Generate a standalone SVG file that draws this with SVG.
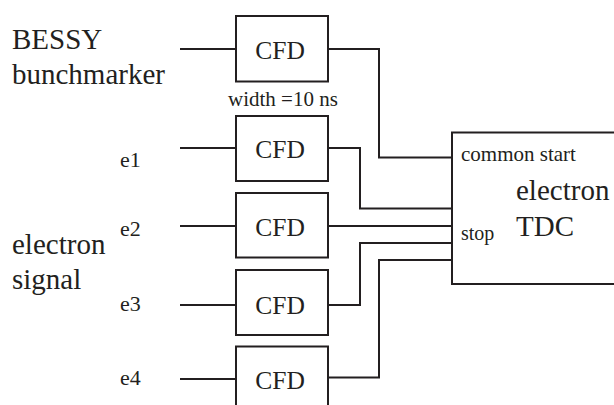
<svg xmlns="http://www.w3.org/2000/svg" width="614" height="405" viewBox="0 0 614 405">
<style>
.box{fill:#fff;stroke:#231f20;stroke-width:2}
.ln{fill:none;stroke:#231f20;stroke-width:2}
text{fill:#231f20}
</style>
<rect width="614" height="405" fill="#fff"/>
<g id="connectors">
<path class="ln" d="M180 49H236"/>
<path class="ln" d="M180 148H236"/>
<path class="ln" d="M180 226H236"/>
<path class="ln" d="M180 305H236"/>
<path class="ln" d="M180 379H236"/>
<path class="ln" d="M328 49H379V157.5H452"/>
<path class="ln" d="M328 148H360V208.5H452"/>
<path class="ln" d="M328 226H452"/>
<path class="ln" d="M328 305H360V243H452"/>
<path class="ln" d="M328 377.5H379V260H452"/>
</g>
<g id="labels" font-family="Liberation Serif, serif">
<text x="12" y="49" font-size="29">BESSY</text>
<text x="12" y="84" font-size="29">bunchmarker</text>
<text x="12" y="254" font-size="29">electron</text>
<text x="12" y="289" font-size="29">signal</text>
<text x="120" y="166.5" font-size="22">e1</text>
<text x="120" y="236" font-size="22">e2</text>
<text x="120" y="311" font-size="22">e3</text>
<text x="120" y="385" font-size="22">e4</text>
<text x="228" y="106" font-size="21">width =10 ns</text>
</g>
<g id="cfd1" font-family="Liberation Serif, serif"><rect class="box" x="236" y="16" width="92" height="65.5"/><text x="280" y="58.5" font-size="25.5" text-anchor="middle">CFD</text></g>
<g id="cfd2" font-family="Liberation Serif, serif"><rect class="box" x="236" y="116" width="92" height="65"/><text x="280" y="158" font-size="25.5" text-anchor="middle">CFD</text></g>
<g id="cfd3" font-family="Liberation Serif, serif"><rect class="box" x="236" y="193" width="92" height="64.5"/><text x="280" y="235.5" font-size="25.5" text-anchor="middle">CFD</text></g>
<g id="cfd4" font-family="Liberation Serif, serif"><rect class="box" x="236" y="270" width="92" height="65"/><text x="280" y="314" font-size="25.5" text-anchor="middle">CFD</text></g>
<g id="cfd5" font-family="Liberation Serif, serif"><rect class="box" x="236" y="346.5" width="92" height="70"/><text x="280" y="389" font-size="25.5" text-anchor="middle">CFD</text></g>
<g id="tdc" font-family="Liberation Serif, serif">
<rect class="box" x="452" y="132.5" width="170" height="151.5"/>
<text x="461" y="160.5" font-size="21">common start</text>
<text x="461" y="239.5" font-size="20">stop</text>
<text x="516" y="199.5" font-size="29">electron</text>
<text x="516" y="236" font-size="29">TDC</text>
</g>
</svg>
